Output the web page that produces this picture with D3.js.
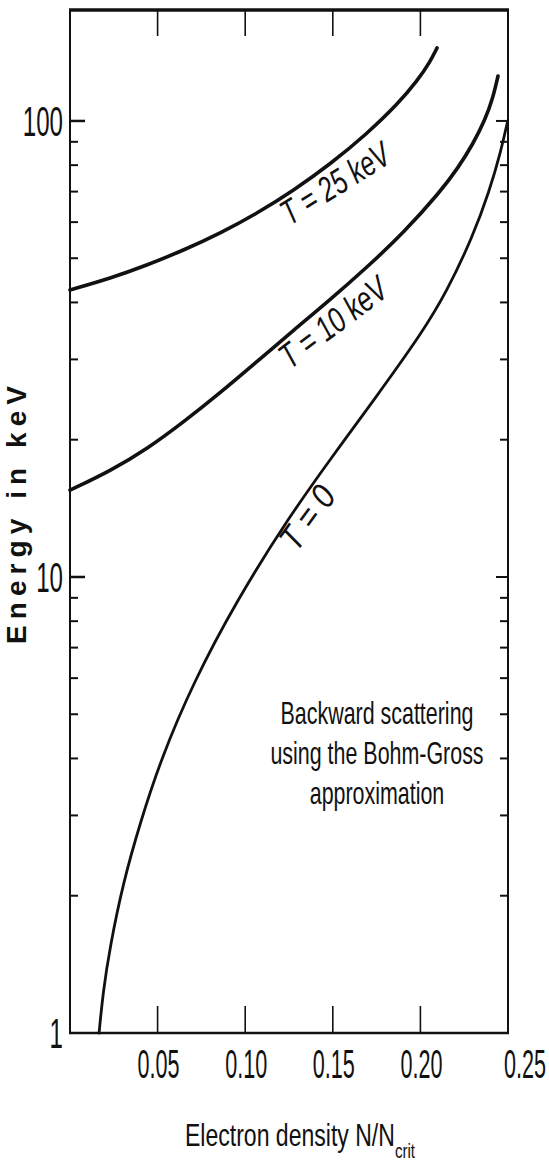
<!DOCTYPE html>
<head>
  <meta charset="utf-8" />
  <script src="https://d3js.org/d3.v7.min.js"></script>
  <style>
    body {
      margin: 0;
      background: #fff;
    }
    .narrow {
      font-family: "Liberation Sans", Arial, sans-serif;
      fill: #111;
    }
  </style>
</head>

<body>
  <script>
    // courbes (N/Ncrit, energie en keV)
    var densityT25 = [0, 0.0232, 0.0441, 0.0650, 0.0860, 0.1068, 0.1278, 0.1487, 0.1696, 0.1872, 0.1986, 0.2055, 0.2095];
    var energyT25 = [42.6, 45.2, 48.3, 52.1, 56.8, 62.7, 70.5, 80.5, 93.8, 109, 123, 134.7, 144.6];

    var densityT10 = [0, 0.0232, 0.0441, 0.0650, 0.0860, 0.1068, 0.1278, 0.1487, 0.1696, 0.1905, 0.2114, 0.2215, 0.2300, 0.2369, 0.2414, 0.2443];
    var energyT10 = [15.5, 17.1, 19.1, 21.9, 25.4, 29.7, 34.8, 40.6, 47.8, 56.9, 70.0, 78.9, 89.0, 100.5, 112.3, 125.5];

    var densityT0 = [0.0166, 0.0188, 0.0228, 0.0303, 0.0400, 0.0517, 0.0702, 0.0953, 0.1250, 0.1495, 0.1735, 0.2009, 0.2150, 0.2300, 0.2392, 0.2460, 0.2498];
    var energyT0 = [1.0, 1.224, 1.544, 2.133, 2.887, 3.969, 5.855, 8.90, 13.54, 18.33, 24.44, 34.28, 42.17, 55.95, 69.87, 85.95, 100];

    var xTicks = [0.05, 0.10, 0.15, 0.20, 0.25];
    var xTickLabels = ["0.05", "0.10", "0.15", "0.20", "0.25"];
    var yTicks = [1, 10, 100];
    var yTickLabels = ["1", "10", "100"];
    var yMinor = [2, 3, 4, 5, 6, 7, 8, 9, 20, 30, 40, 50, 60, 70, 80, 90];

    var curveLabels = ["T = 25 keV", "T = 10 keV", "T = 0"];
    var labelDensity = [0.1513, 0.1501, 0.1353];
    var labelEnergy = [73, 36.2, 13.5];

    var noteLines = ["Backward scattering", "using the Bohm-Gross", "approximation"];

    var width = 549,
      height = 1163;

    var svg = d3
      .select("body")
      .append("svg")
      .attr("width", width)
      .attr("height", height);

    var x = d3.scaleLinear().domain([0, 0.25]).range([70, 508]);
    var y = d3.scaleLog().domain([1, 176]).range([1033, 9]);

    // cadre
    var x0 = x(0), x1 = x(0.25), yb = y(1), yt = y(176);
    svg.append("line").attr("x1", x0).attr("x2", x0).attr("y1", yt).attr("y2", yb)
      .attr("stroke", "#111").attr("stroke-width", 2);
    svg.append("line").attr("x1", x1).attr("x2", x1).attr("y1", yt).attr("y2", yb)
      .attr("stroke", "#111").attr("stroke-width", 2);
    svg.append("line").attr("x1", x0 - 1).attr("x2", x1 + 1).attr("y1", yb).attr("y2", yb)
      .attr("stroke", "#111").attr("stroke-width", 2.5);
    svg.append("line").attr("x1", x0 - 1).attr("x2", x1 + 1).attr("y1", yt + 1).attr("y2", yt + 1)
      .attr("stroke", "#111").attr("stroke-width", 3.5);

    // graduations x (haut et bas, vers l'interieur)
    var inner = xTicks.filter(function (d) { return d < 0.25; });
    svg.selectAll(".xtb").data(inner).join("line")
      .attr("x1", function (d) { return x(d); }).attr("x2", function (d) { return x(d); })
      .attr("y1", yb).attr("y2", yb - 27)
      .attr("stroke", "#111").attr("stroke-width", 1.6);
    svg.selectAll(".xtt").data(inner).join("line")
      .attr("x1", function (d) { return x(d); }).attr("x2", function (d) { return x(d); })
      .attr("y1", yt).attr("y2", yt + 27)
      .attr("stroke", "#111").attr("stroke-width", 1.6);

    // graduations y (gauche et droite)
    var yAll = yTicks.slice(1).map(function (d) { return { v: d, major: true }; })
      .concat(yMinor.map(function (d) { return { v: d, major: false }; }));
    yAll.forEach(function (t) {
      var len = t.major ? 15 : 8;
      svg.append("line").attr("x1", x0).attr("x2", x0 + len)
        .attr("y1", y(t.v)).attr("y2", y(t.v))
        .attr("stroke", "#111").attr("stroke-width", t.major ? 2.5 : 2);
      svg.append("line").attr("x1", x1).attr("x2", x1 - (t.major ? 12 : 8))
        .attr("y1", y(t.v)).attr("y2", y(t.v))
        .attr("stroke", "#111").attr("stroke-width", 2);
    });

    // etiquettes des axes
    svg.selectAll(".xl").data(xTicks).join("text")
      .attr("class", "narrow")
      .attr("transform", function (d) {
        var dx = d === 0.25 ? 17 : 1; // le 0.25 est decale a droite sur l'original
        return "translate(" + (x(d) + dx) + "," + 1078 + ") scale(0.54,1)";
      })
      .attr("text-anchor", "middle")
      .attr("font-size", 40)
      .text(function (d, i) { return xTickLabels[i]; });

    svg.selectAll(".yl").data(yTicks).join("text")
      .attr("class", "narrow")
      .attr("transform", function (d) { return "translate(63," + (y(d) + 15) + ") scale(0.56,1)"; })
      .attr("text-anchor", "end")
      .attr("font-size", 43)
      .text(function (d, i) { return yTickLabels[i]; });

    var xt = svg.append("text")
      .attr("class", "narrow")
      .attr("transform", "translate(300,1146) scale(0.72,1)")
      .attr("text-anchor", "middle")
      .attr("font-size", 32);
    xt.append("tspan").text("Electron density N/N");
    xt.append("tspan").attr("font-size", 21).attr("dy", 12).text("crit");

    svg.append("text")
      .attr("transform", "translate(26,515) rotate(-90)")
      .attr("text-anchor", "middle")
      .attr("font-family", "Liberation Sans, Arial, sans-serif")
      .attr("font-weight", "bold")
      .attr("font-size", 28)
      .attr("textLength", 258)
      .attr("lengthAdjust", "spacing")
      .attr("fill", "#111")
      .text("Energy in keV");

    // courbes (lissees, les points sont lus a la main)
    var line = d3.line()
      .x(function (d) { return x(d[0]); })
      .y(function (d) { return y(d[1]); })
      .curve(d3.curveBasis);

    var series = [
      { pts: d3.zip(densityT25, energyT25), w: 3.6 },
      { pts: d3.zip(densityT10, energyT10), w: 3.6 },
      { pts: d3.zip(densityT0, energyT0), w: 2.8 }
    ];
    svg.selectAll(".curve").data(series).join("path")
      .attr("d", function (d) { return line(d.pts); })
      .attr("fill", "none")
      .attr("stroke", "#111")
      .attr("stroke-width", function (d) { return d.w; })
      .attr("stroke-linecap", "round");

    // etiquettes des courbes
    var angles = [-32, -37, -54];
    var lengths = [122, 126, 70];
    curveLabels.forEach(function (t, i) {
      svg.append("text")
        .attr("class", "narrow")
        .attr("transform", "translate(" + x(labelDensity[i]) + "," + y(labelEnergy[i]) + ") rotate(" + angles[i] + ")")
        .attr("text-anchor", "middle")
        .attr("dy", "0.35em")
        .attr("font-size", 35)
        .attr("font-style", "italic")
        .attr("textLength", lengths[i])
        .attr("lengthAdjust", "spacingAndGlyphs")
        .text(t);
    });

    // note
    svg.selectAll(".note").data(noteLines).join("text")
      .attr("class", "narrow")
      .attr("transform", function (d, i) { return "translate(377," + (724 + i * 40) + ") scale(0.67,1)"; })
      .attr("text-anchor", "middle")
      .attr("font-size", 32)
      .text(function (d) { return d; });
  </script>
</body>
